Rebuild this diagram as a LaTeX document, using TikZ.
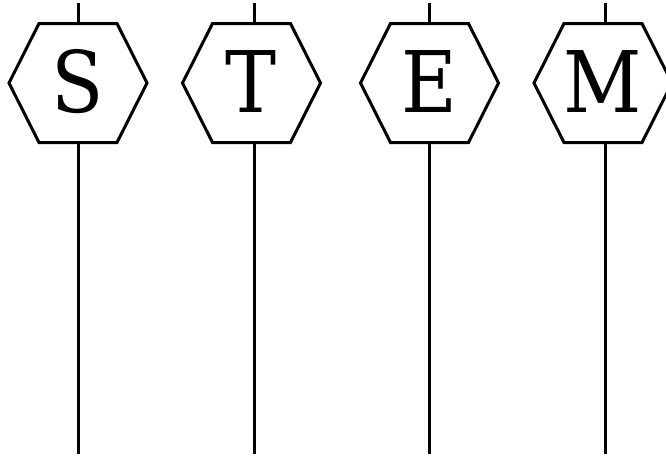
\documentclass[tikz,border=0pt]{standalone}
\usepackage{fontspec}
\setmainfont{DejaVu Serif Condensed}
\begin{document}
\begin{tikzpicture}[x=1pt,y=-1pt,
  hexline/.style={line width=3pt, line join=miter},
  stem/.style={line width=3pt},
  letter/.style={font=\fontsize{85}{85}\selectfont, inner sep=0pt, anchor=base}]
\useasboundingbox (0,0) rectangle (666,456);
\foreach \name/\cx/\lx/\txt in {s/78/78/S, t/251.5/254/T, e/429.5/429.5/E, m/603/605/M} {
  \draw[hexline] (\cx-69,83) -- (\cx-39,23.5) -- (\cx+39,23.5) -- (\cx+69,83) -- (\cx+39,142.5) -- (\cx-39,142.5) -- cycle;
  \node[letter] (\name) at (\cx,112) {\txt};
  \coordinate (\name-a) at (\lx,3);
  \coordinate (\name-b) at (\lx,23.5);
  \coordinate (\name-c) at (\lx,142.5);
  \coordinate (\name-d) at (\lx,454);
  \draw[stem] (\name-a) -- (\name-b);
  \draw[stem] (\name-c) -- (\name-d);
}
\end{tikzpicture}
\end{document}
